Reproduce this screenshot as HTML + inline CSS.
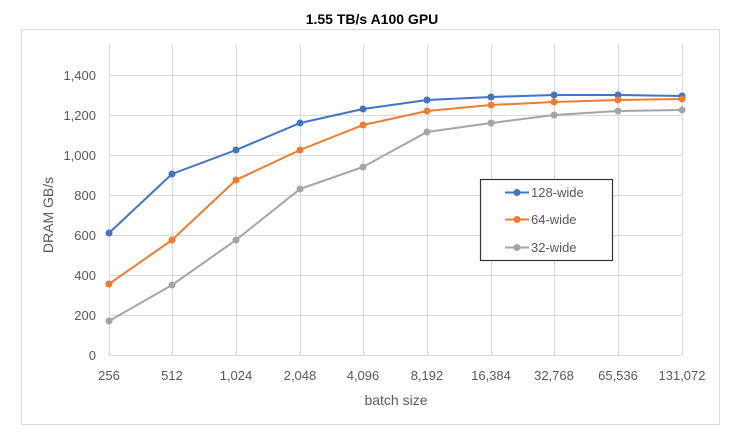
<!DOCTYPE html>
<html><head><style>body{margin:0;background:#fff}svg{display:block}text{font-family:"Liberation Sans",sans-serif}</style></head><body>
<svg width="745" height="436" xmlns="http://www.w3.org/2000/svg">
<text x="372" y="24" text-anchor="middle" font-size="14" font-weight="bold" fill="#000">1.55 TB/s A100 GPU</text>
<rect x="21.5" y="29.5" width="698" height="395" fill="none" stroke="#d9d9d9"/>
<g stroke="#d9d9d9" stroke-width="1">
<line x1="109" x2="682" y1="75.5" y2="75.5"/><line x1="109" x2="682" y1="115.5" y2="115.5"/><line x1="109" x2="682" y1="155.5" y2="155.5"/><line x1="109" x2="682" y1="195.5" y2="195.5"/><line x1="109" x2="682" y1="235.5" y2="235.5"/><line x1="109" x2="682" y1="275.5" y2="275.5"/><line x1="109" x2="682" y1="315.5" y2="315.5"/><line x1="109" x2="682" y1="355.5" y2="355.5"/>
<line x1="109.5" x2="109.5" y1="44" y2="355"/><line x1="172.5" x2="172.5" y1="44" y2="355"/><line x1="236.5" x2="236.5" y1="44" y2="355"/><line x1="300.5" x2="300.5" y1="44" y2="355"/><line x1="363.5" x2="363.5" y1="44" y2="355"/><line x1="427.5" x2="427.5" y1="44" y2="355"/><line x1="491.5" x2="491.5" y1="44" y2="355"/><line x1="554.5" x2="554.5" y1="44" y2="355"/><line x1="618.5" x2="618.5" y1="44" y2="355"/><line x1="682.5" x2="682.5" y1="44" y2="355"/>
</g>
<g font-size="13" fill="#595959" text-anchor="end">
<text x="96" y="80">1,400</text><text x="96" y="120">1,200</text><text x="96" y="160">1,000</text><text x="96" y="200">800</text><text x="96" y="240">600</text><text x="96" y="280">400</text><text x="96" y="320">200</text><text x="96" y="360">0</text>
</g>
<g font-size="13" fill="#595959" text-anchor="middle">
<text x="109" y="380">256</text><text x="172" y="380">512</text><text x="236" y="380">1,024</text><text x="300" y="380">2,048</text><text x="363" y="380">4,096</text><text x="427" y="380">8,192</text><text x="491" y="380">16,384</text><text x="554" y="380">32,768</text><text x="618" y="380">65,536</text><text x="682" y="380">131,072</text>
<text x="396" y="405" font-size="14">batch size</text>
</g>
<text transform="translate(53,215) rotate(-90)" text-anchor="middle" font-size="14" fill="#595959">DRAM GB/s</text>
<g fill="none" stroke-width="2">
<polyline stroke="#4472c4" points="109,233 172,174 236,150 300,123 363,109 427,100 491,97 554,95 618,95 682,96"/>
<polyline stroke="#ed7d31" points="109,284 172,240 236,180 300,150 363,125 427,111 491,105 554,102 618,100 682,99"/>
<polyline stroke="#a5a5a5" points="109,321 172,285 236,240 300,189 363,167 427,132 491,123 554,115 618,111 682,110"/>
</g>
<g fill="#4472c4"><circle cx="109" cy="233" r="3.5"/><circle cx="172" cy="174" r="3.5"/><circle cx="236" cy="150" r="3.5"/><circle cx="300" cy="123" r="3.5"/><circle cx="363" cy="109" r="3.5"/><circle cx="427" cy="100" r="3.5"/><circle cx="491" cy="97" r="3.5"/><circle cx="554" cy="95" r="3.5"/><circle cx="618" cy="95" r="3.5"/><circle cx="682" cy="96" r="3.5"/></g>
<g fill="#ed7d31"><circle cx="109" cy="284" r="3.5"/><circle cx="172" cy="240" r="3.5"/><circle cx="236" cy="180" r="3.5"/><circle cx="300" cy="150" r="3.5"/><circle cx="363" cy="125" r="3.5"/><circle cx="427" cy="111" r="3.5"/><circle cx="491" cy="105" r="3.5"/><circle cx="554" cy="102" r="3.5"/><circle cx="618" cy="100" r="3.5"/><circle cx="682" cy="99" r="3.5"/></g>
<g fill="#a5a5a5"><circle cx="109" cy="321" r="3.5"/><circle cx="172" cy="285" r="3.5"/><circle cx="236" cy="240" r="3.5"/><circle cx="300" cy="189" r="3.5"/><circle cx="363" cy="167" r="3.5"/><circle cx="427" cy="132" r="3.5"/><circle cx="491" cy="123" r="3.5"/><circle cx="554" cy="115" r="3.5"/><circle cx="618" cy="111" r="3.5"/><circle cx="682" cy="110" r="3.5"/></g>
<rect x="480.5" y="179.5" width="132" height="81" fill="#fff" stroke="#333" stroke-width="1.2"/>
<g stroke-width="2"><line x1="505" x2="529" y1="192.5" y2="192.5" stroke="#4472c4"/><line x1="505" x2="529" y1="219.5" y2="219.5" stroke="#ed7d31"/><line x1="505" x2="529" y1="247.5" y2="247.5" stroke="#a5a5a5"/></g>
<circle cx="517" cy="192.5" r="3.5" fill="#4472c4"/><circle cx="517" cy="219.5" r="3.5" fill="#ed7d31"/><circle cx="517" cy="247.5" r="3.5" fill="#a5a5a5"/>
<g font-size="13" fill="#595959"><text x="531" y="197">128-wide</text><text x="531" y="224">64-wide</text><text x="531" y="252">32-wide</text></g>
</svg>
</body></html>
